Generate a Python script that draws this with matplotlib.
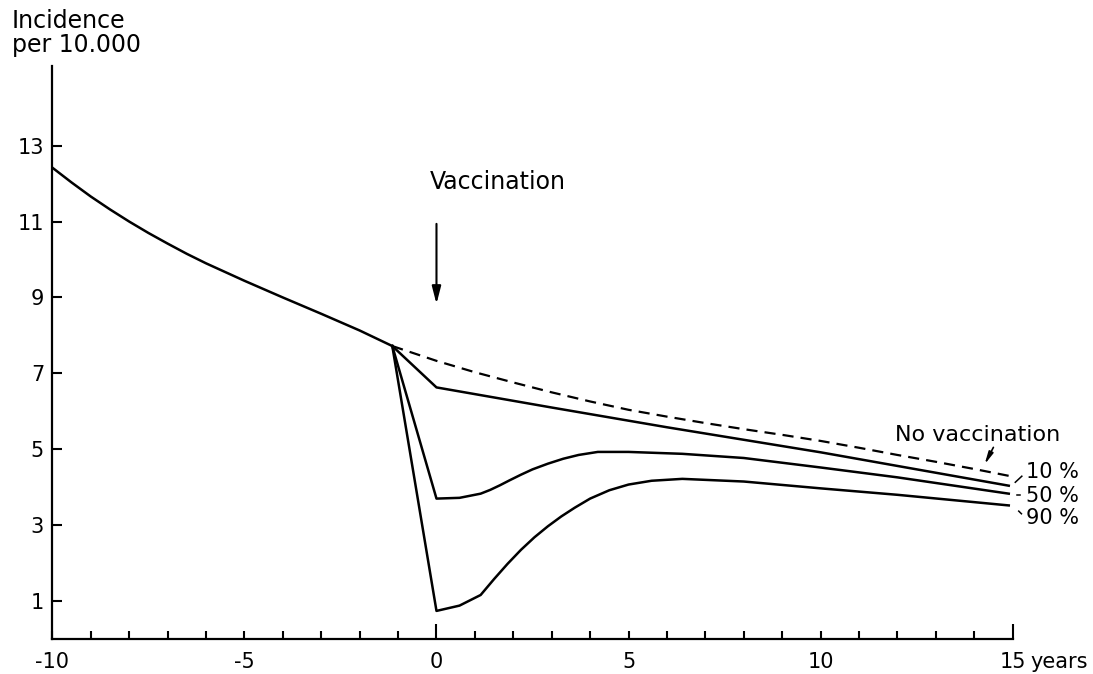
import matplotlib
matplotlib.use("Agg")
import matplotlib.pyplot as plt
from matplotlib.ticker import MultipleLocator, FixedLocator

plt.rcParams['font.family'] = ['DejaVu Sans']

# ---- data ----
years_pre = [-10, -9.5, -9, -8.5, -8, -7.5, -7, -6.5, -6, -5.5, -5, -4.5, -4,
             -3, -2, -1.15]
inc_pre = [12.42, 12.03, 11.66, 11.32, 11.0, 10.7, 10.42, 10.15, 9.9, 9.67,
           9.44, 9.22, 9.0, 8.57, 8.13, 7.72]

years_novacc = [-1.15, 0, 1, 2, 3, 4, 5, 6, 7, 8, 9, 10, 11, 12, 13, 14, 14.9]
inc_novacc = [7.72, 7.33, 7.03, 6.76, 6.5, 6.26, 6.04, 5.86, 5.69, 5.53, 5.38,
              5.22, 5.04, 4.85, 4.67, 4.48, 4.3]

years_10 = [-1.15, 0, 3, 6, 10, 14.9]
inc_10 = [7.72, 6.63, 6.1, 5.58, 4.92, 4.04]

years_50 = [-1.15, 0, 0.6, 1.15, 1.4, 1.65, 1.9, 2.2, 2.5, 2.9, 3.3, 3.7, 4.2,
            5, 6.4, 8, 10, 12, 14.9]
inc_50 = [7.72, 3.70, 3.72, 3.83, 3.93, 4.05, 4.18, 4.33, 4.47, 4.62, 4.75,
          4.85, 4.93, 4.93, 4.88, 4.77, 4.52, 4.26, 3.83]

years_90 = [-1.15, 0, 0.6, 1.15, 1.5, 1.85, 2.2, 2.55, 2.9, 3.25, 3.6, 4.0,
            4.5, 5.0, 5.6, 6.4, 8, 10, 12, 14.9]
inc_90 = [7.72, 0.74, 0.88, 1.16, 1.58, 1.98, 2.35, 2.68, 2.97, 3.23, 3.46,
          3.7, 3.92, 4.07, 4.17, 4.22, 4.15, 3.97, 3.8, 3.52]

y_ticks = [1, 3, 5, 7, 9, 11, 13]
x_major = [-10, -5, 0, 5, 10, 15]
x_labels = ['-10', '-5', '0', '5', '10', '15']
pct_labels = ['10 %', '50 %', '90 %']
pct_label_y = [4.41, 3.78, 3.2]

# ---- figure ----
fig = plt.figure(figsize=(10.93, 6.74), dpi=100)
ax = fig.add_axes([52.4 / 1093, 35 / 674, 960.2 / 1093, 573 / 674])

lw = 1.8
ax.plot(years_pre, inc_pre, color='black', lw=lw, solid_joinstyle='round')
ax.plot(years_novacc, inc_novacc, color='black', lw=1.6, linestyle=(0, (5, 3.2)))
ax.plot(years_10, inc_10, color='black', lw=lw, solid_joinstyle='round')
ax.plot(years_50, inc_50, color='black', lw=lw, solid_joinstyle='round')
ax.plot(years_90, inc_90, color='black', lw=lw, solid_joinstyle='round')

ax.set_xlim(-10, 15)
ax.set_ylim(0, 15.1)

for s in ['top', 'right']:
    ax.spines[s].set_visible(False)
for s in ['left', 'bottom']:
    ax.spines[s].set_linewidth(1.6)

ax.yaxis.set_major_locator(FixedLocator(y_ticks))
ax.set_yticklabels([str(v) for v in y_ticks])
ax.xaxis.set_major_locator(FixedLocator(x_major))
ax.set_xticklabels(x_labels)
ax.xaxis.set_minor_locator(MultipleLocator(1))

ax.tick_params(axis='y', direction='in', length=7, width=1.5, pad=6, labelsize=15)
ax.tick_params(axis='x', which='both', direction='in', length=6, width=1.5,
               pad=9, labelsize=15)
for t, v in zip(ax.xaxis.get_major_ticks(), x_major):
    if v in (0, 15):
        t.tick1line.set_markersize(11)

ax.annotate('years', xy=(15, 0), xycoords='data', xytext=(13, -9),
            textcoords='offset points', ha='left', va='top', fontsize=15,
            annotation_clip=False)

# y axis title
fig.text(12 / 1093, 1 - 9 / 674, 'Incidence\nper 10.000', ha='left', va='top',
         fontsize=17, linespacing=1.0)

# Vaccination arrow
ax.text(1.6, 11.87, 'Vaccination', ha='center', va='baseline', fontsize=17)
ax.annotate('', xy=(0, 8.83), xytext=(0, 10.94),
            arrowprops=dict(arrowstyle='-|>,head_width=0.18,head_length=0.7',
                            lw=1.5, color='black', mutation_scale=15,
                            shrinkA=0, shrinkB=0))

# No vaccination label
ax.text(11.93, 5.22, 'No vaccination', ha='left', va='baseline', fontsize=16)
ax.annotate('', xy=(14.27, 4.6), xytext=(14.5, 5.05),
            arrowprops=dict(arrowstyle='-|>,head_width=0.12,head_length=0.6',
                            lw=1.2, color='black', mutation_scale=12,
                            shrinkA=0, shrinkB=0))

# percent labels with small leaders
leader_x = [[15.07, 15.24], [15.12, 15.2], [15.16, 15.23]]
leader_y = [[4.13, 4.29], [3.80, 3.80], [3.37, 3.30]]
for lab, yl, lx, ly in zip(pct_labels, pct_label_y, leader_x, leader_y):
    ax.text(15.36, yl, lab, ha='left', va='center', fontsize=15, clip_on=False)
    ax.plot(lx, ly, color='black', lw=1.1, clip_on=False)

fig.savefig('out.png', dpi=100)
